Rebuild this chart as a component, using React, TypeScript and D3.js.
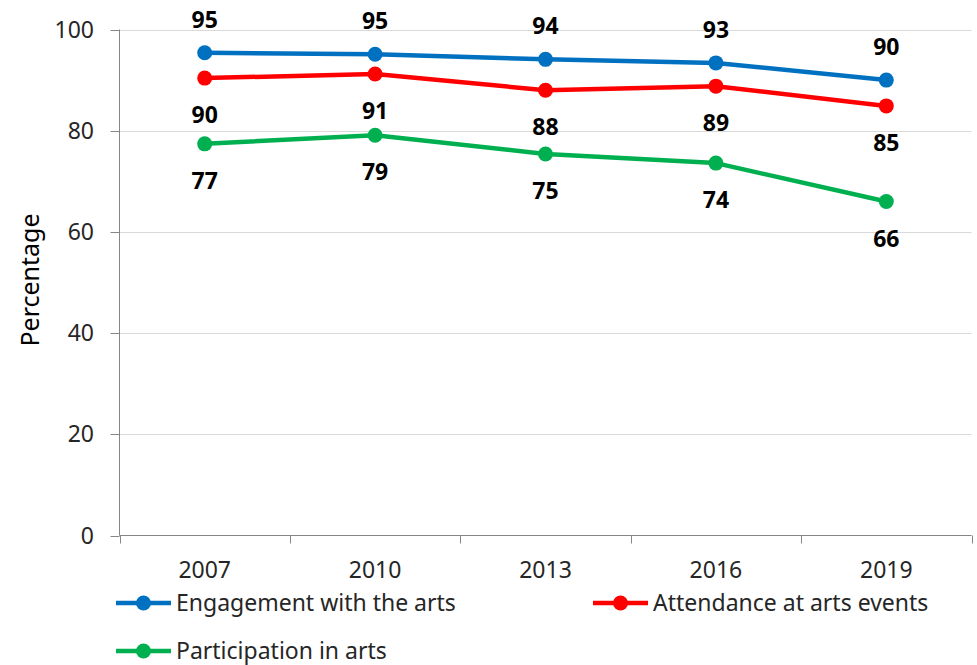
import { useRef, useEffect } from 'react';
import * as d3 from 'd3';

const years = ['2007', '2010', '2013', '2016', '2019'];
const engagement = [95.4, 95.1, 94.1, 93.4, 90.0];
const attendance = [90.4, 91.2, 88.0, 88.8, 84.9];
const participation = [77.4, 79.1, 75.4, 73.6, 66.0];
const yTicks = [0, 20, 40, 60, 80, 100];

const series = [
  { name: 'Engagement with the arts', values: engagement, color: '#0070C0', labelPos: 'above' },
  { name: 'Attendance at arts events', values: attendance, color: '#FF0000', labelPos: 'below' },
  { name: 'Participation in arts', values: participation, color: '#00B050', labelPos: 'below' },
];

const FONT = '"Noto Sans", "Open Sans", sans-serif';

export default function App() {
  const svgRef = useRef<SVGSVGElement>(null);

  useEffect(() => {
    if (!svgRef.current) return;
    const svg = d3.select(svgRef.current);
    svg.selectAll('*').remove();

    const width = 977;
    const height = 665;
    const left = 119.5;
    const right = 971.5;
    const top = 29.5;
    const bottom = 535.5;

    svg.append('rect').attr('width', width).attr('height', height).attr('fill', '#fff');

    const x = d3.scaleBand<string>().domain(years).range([left, right]).padding(0);
    const y = d3.scaleLinear().domain([0, 100]).range([bottom, top]);
    const cx = (i: number) => x(years[i])! + x.bandwidth() / 2;

    // gridlines
    svg.append('g')
      .selectAll('line')
      .data(yTicks.filter((t) => t > 0))
      .join('line')
      .attr('x1', left)
      .attr('x2', right)
      .attr('y1', (d) => Math.round(y(d)) + 0.5)
      .attr('y2', (d) => Math.round(y(d)) + 0.5)
      .attr('stroke', '#d9d9d9')
      .attr('stroke-width', 1);

    // y axis
    const yAxis = svg.append('g');
    yAxis.append('line')
      .attr('x1', left).attr('x2', left)
      .attr('y1', top).attr('y2', bottom)
      .attr('stroke', '#868686');
    yAxis.selectAll('.tick')
      .data(yTicks)
      .join('line')
      .attr('x1', left - 9).attr('x2', left)
      .attr('y1', (d) => Math.round(y(d)) + 0.5)
      .attr('y2', (d) => Math.round(y(d)) + 0.5)
      .attr('stroke', '#868686');
    yAxis.selectAll('text')
      .data(yTicks)
      .join('text')
      .attr('x', 94)
      .attr('y', (d) => y(d))
      .attr('dy', '0.35em')
      .attr('text-anchor', 'end')
      .attr('font-family', FONT)
      .attr('font-size', 23)
      .attr('fill', '#262626')
      .text((d) => d);

    // x axis
    const xAxis = svg.append('g');
    xAxis.append('line')
      .attr('x1', left).attr('x2', right)
      .attr('y1', bottom).attr('y2', bottom)
      .attr('stroke', '#868686');
    const bounds = [...years.map((yr) => x(yr)!), right];
    xAxis.selectAll('.tick')
      .data(bounds)
      .join('line')
      .attr('x1', (d) => Math.round(d) + 0.5)
      .attr('x2', (d) => Math.round(d) + 0.5)
      .attr('y1', bottom).attr('y2', bottom + 8)
      .attr('stroke', '#868686');
    xAxis.selectAll('text')
      .data(years)
      .join('text')
      .attr('x', (_, i) => cx(i))
      .attr('y', 570)
      .attr('dy', '0.35em')
      .attr('text-anchor', 'middle')
      .attr('font-family', FONT)
      .attr('font-size', 23)
      .attr('fill', '#262626')
      .text((d) => d);

    // y axis title
    svg.append('text')
      .attr('transform', `translate(30,280) rotate(-90)`)
      .attr('text-anchor', 'middle')
      .attr('dy', '0.35em')
      .attr('font-family', FONT)
      .attr('font-size', 25)
      .attr('fill', '#000')
      .text('Percentage');

    const line = d3.line<number>()
      .x((_, i) => cx(i))
      .y((d) => y(d));

    series.forEach((s) => {
      const g = svg.append('g');
      g.append('path')
        .datum(s.values)
        .attr('d', line)
        .attr('fill', 'none')
        .attr('stroke', s.color)
        .attr('stroke-width', 4.5)
        .attr('stroke-linejoin', 'round');
      g.selectAll('circle')
        .data(s.values)
        .join('circle')
        .attr('cx', (_, i) => cx(i))
        .attr('cy', (d) => y(d))
        .attr('r', 7.5)
        .attr('fill', s.color);
      g.selectAll('text')
        .data(s.values)
        .join('text')
        .attr('x', (_, i) => cx(i))
        .attr('y', (d) => y(d) + (s.labelPos === 'above' ? -33 : 37))
        .attr('dy', '0.35em')
        .attr('text-anchor', 'middle')
        .attr('font-family', FONT)
        .attr('font-weight', 'bold')
        .attr('font-size', 23)
        .attr('fill', '#000')
        .text((d) => d3.format('.0f')(d));
    });

    // legend
    const legendPos = [
      { x: 116, y: 603 },
      { x: 593, y: 603 },
      { x: 116, y: 651 },
    ];
    series.forEach((s, i) => {
      const p = legendPos[i];
      const g = svg.append('g').attr('transform', `translate(${p.x},${p.y})`);
      g.append('line')
        .attr('x1', 0).attr('x2', 55)
        .attr('stroke', s.color)
        .attr('stroke-width', 4.5);
      g.append('circle').attr('cx', 27.5).attr('r', 7.5).attr('fill', s.color);
      g.append('text')
        .attr('x', 60)
        .attr('dy', '0.35em')
        .attr('font-family', FONT)
        .attr('font-size', 23)
        .attr('fill', '#262626')
        .text(s.name);
    });
  }, []);

  return (
    <svg
      ref={svgRef}
      width={977}
      height={665}
      style={{ position: 'absolute', left: 0, top: 0, display: 'block' }}
    />
  );
}
